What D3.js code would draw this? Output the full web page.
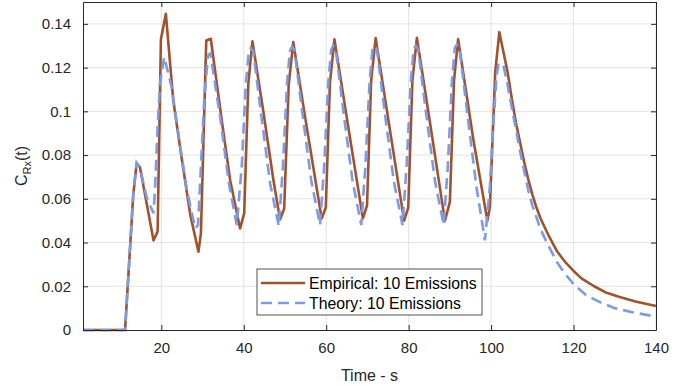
<!DOCTYPE html>
<html>
<head>
<meta charset="utf-8">
<script src="https://cdn.jsdelivr.net/npm/d3@7"></script>
<style>
  body { margin: 0; background: #fff; }
  svg { font-family: "Liberation Sans", Arial, Helvetica, sans-serif; }
</style>
</head>
<body>
<div class="chart"></div>
<script>
// values, [time (s), C_Rx(t)]
const empirical = [
  [1, 0], [11.2, 0], [13.2, 0.062], [14, 0.076], [14.8, 0.0746], [18.1, 0.041], [19.1, 0.045],
  [19.9, 0.133], [21.1, 0.1446], [22.9, 0.105], [24.9, 0.079], [27, 0.053], [29, 0.0358],
  [29.6, 0.044], [30.9, 0.1324], [32, 0.1332], [34.8, 0.094], [36.7, 0.0685], [39.1, 0.0464],
  [40.1, 0.0533], [41.1, 0.1126], [42.1, 0.132], [44.7, 0.1005], [47.2, 0.0685], [48.8, 0.0505],
  [49.8, 0.0555], [50.9, 0.112], [52, 0.1317], [55, 0.096], [58.9, 0.051],
  [59.9, 0.056], [60.9, 0.113], [62, 0.1329], [65, 0.097], [68.9, 0.051],
  [69.9, 0.057], [70.9, 0.114], [72, 0.1335], [75, 0.097], [78.9, 0.050],
  [79.9, 0.056], [80.9, 0.114], [82, 0.1336], [85, 0.097], [88.8, 0.050],
  [90, 0.0586], [91, 0.114], [92, 0.133], [95.7, 0.087], [99.1, 0.050],
  [99.7, 0.0563], [101, 0.118], [102, 0.1362], [103, 0.127], [104, 0.118], [105, 0.106],
  [106, 0.095], [107, 0.086], [108, 0.077], [109, 0.069], [110, 0.062], [111, 0.056],
  [112, 0.051], [114, 0.043], [116, 0.036], [118, 0.031], [120, 0.027], [122, 0.0235],
  [125, 0.020], [128, 0.017], [131, 0.0152], [135, 0.013], [140, 0.011]
]

const theory = [
  [1, 0], [11.2, 0], [13.2, 0.062], [14, 0.0765], [14.8, 0.0745], [16.4, 0.061], [18.1, 0.0534],
  [18.5, 0.0654], [19.1, 0.093], [19.7, 0.113], [20.7, 0.1248], [22.5, 0.111], [24.5, 0.085],
  [26.2, 0.064], [27.8, 0.050], [28.3, 0.0465], [28.9, 0.048],
  [29.6, 0.0746], [30.4, 0.105], [31.3, 0.1255], [31.9, 0.1265], [34.3, 0.097], [36.4, 0.067], [38.3, 0.048],
  [39.5, 0.0746], [40.5, 0.1126], [41.2, 0.127], [41.7, 0.129], [42.3, 0.1275], [44.3, 0.0974], [46.4, 0.067], [48.5, 0.0475],
  [49.5, 0.075], [50.5, 0.113], [51.2, 0.1275], [51.7, 0.1295], [52.3, 0.128], [54.3, 0.098], [56.4, 0.068], [58.5, 0.048],
  [59.5, 0.075], [60.5, 0.113], [61.2, 0.128], [61.7, 0.130], [62.3, 0.1285], [64.3, 0.098], [66.4, 0.068], [68.5, 0.048],
  [69.5, 0.075], [70.5, 0.113], [71.2, 0.128], [71.7, 0.130], [72.3, 0.1285], [74.3, 0.098], [76.4, 0.068], [78.5, 0.048],
  [79.5, 0.075], [80.5, 0.113], [81.2, 0.128], [81.7, 0.130], [82.3, 0.1285], [84.3, 0.098], [86.4, 0.068], [88.5, 0.048],
  [89.5, 0.075], [90.5, 0.114], [91.2, 0.129], [91.7, 0.1305], [92.3, 0.129], [94.3, 0.098], [96.4, 0.066], [98.5, 0.041],
  [99.7, 0.0654], [100.5, 0.093], [101.3, 0.1157], [101.8, 0.122], [103, 0.121], [104, 0.112], [105, 0.102],
  [106, 0.092], [107, 0.082], [108, 0.073], [109, 0.064], [110, 0.057], [112, 0.046], [113.5, 0.040],
  [116, 0.031], [118, 0.0255], [120, 0.021], [123, 0.016], [127, 0.0122], [130, 0.010], [134, 0.0082], [140, 0.0061]
]

const xTicks = [20, 40, 60, 80, 100, 120, 140]
const yTicks = [0, 0.02, 0.04, 0.06, 0.08, 0.1, 0.12, 0.14]
const yTickLabels = ["0", "0.02", "0.04", "0.06", "0.08", "0.1", "0.12", "0.14"]
const seriesNames = ["Empirical: 10 Emissions", "Theory: 10 Emissions"]

const margin = ({top: 2, right: 38, bottom: 55, left: 83})
const width = 694
const height = 385
const w = width - margin.left - margin.right
const h = height - margin.top - margin.bottom

const axisColor = "#262626"
const brown = "#A0522D"
const blue = "#7B9BE6"

const svg = d3.select(".chart")
  .append("svg")
  .attr("width", width)
  .attr("height", height)

const g = svg.append("g")
  .attr("transform", "translate(" + margin.left + "," + margin.top + ")")

// SCALES
const x = d3.scaleLinear().domain([1, 140]).range([0, w])
const y = d3.scaleLinear().domain([0, 0.15]).range([h, 0])

// grid
g.append("g").selectAll("line").data(xTicks).join("line")
  .attr("x1", d => x(d)).attr("x2", d => x(d))
  .attr("y1", 0).attr("y2", h)
  .attr("stroke", "#e3e3e3").attr("stroke-width", 1)
g.append("g").selectAll("line").data(yTicks.slice(1)).join("line")
  .attr("y1", d => y(d)).attr("y2", d => y(d))
  .attr("x1", 0).attr("x2", w)
  .attr("stroke", "#e3e3e3").attr("stroke-width", 1)

// lines
const line = d3.line().x(d => x(d[0])).y(d => y(d[1]))

g.append("path").datum(empirical)
  .attr("d", line)
  .attr("fill", "none")
  .attr("stroke", brown)
  .attr("stroke-width", 2.6)
  .attr("stroke-linejoin", "round")

g.append("path").datum(theory)
  .attr("d", line)
  .attr("fill", "none")
  .attr("stroke", blue)
  .attr("stroke-width", 2.6)
  .attr("stroke-dasharray", "11,6")

// AXES (box with inward ticks on all sides)
const xAxis = d3.axisBottom(x).tickValues(xTicks).tickSizeInner(-5).tickSizeOuter(0).tickPadding(12)
const yAxis = d3.axisLeft(y).tickValues(yTicks).tickFormat((d, i) => yTickLabels[i]).tickSizeInner(-5).tickSizeOuter(0).tickPadding(12)
const xTop = d3.axisTop(x).tickValues(xTicks).tickSizeInner(-5).tickSizeOuter(0).tickFormat("")
const yRight = d3.axisRight(y).tickValues(yTicks).tickSizeInner(-5).tickSizeOuter(0).tickFormat("")

function styleAxis(sel) {
  sel.select(".domain").attr("stroke", axisColor).attr("stroke-width", 1)
  sel.selectAll(".tick line").attr("stroke", axisColor)
  sel.selectAll(".tick text").attr("fill", axisColor).attr("font-size", 15)
    .attr("font-family", "'Liberation Sans', Arial, sans-serif")
}

g.append("g").attr("transform", "translate(0," + h + ")").call(xAxis).call(styleAxis)
g.append("g").call(yAxis).call(styleAxis)
g.append("g").call(xTop).call(styleAxis)
g.append("g").attr("transform", "translate(" + w + ",0)").call(yRight).call(styleAxis)

// labels
svg.append("text")
  .attr("x", margin.left + w / 2)
  .attr("y", 381)
  .attr("text-anchor", "middle")
  .attr("font-size", 16)
  .attr("fill", axisColor)
  .text("Time - s")

const yl = svg.append("text")
  .attr("transform", "translate(27," + (margin.top + h / 2) + ") rotate(-90)")
  .attr("text-anchor", "middle")
  .attr("font-size", 16)
  .attr("fill", axisColor)
yl.append("tspan").text("C")
yl.append("tspan").attr("font-size", 11).attr("dy", 4).text("Rx")
yl.append("tspan").attr("dy", -4).text("(t)")

// legend
const lg = svg.append("g").attr("transform", "translate(257,269)")
lg.append("rect")
  .attr("width", 225).attr("height", 46)
  .attr("fill", "#fff").attr("stroke", axisColor).attr("stroke-width", 0.8)

const entries = [
  {name: seriesNames[0], color: brown, dash: null},
  {name: seriesNames[1], color: blue, dash: "11,6"}
]
const le = lg.selectAll(".entry").data(entries).join("g")
  .attr("class", "entry")
  .attr("transform", (d, i) => "translate(0," + (14 + i * 20) + ")")
le.append("line")
  .attr("x1", 4).attr("x2", 48)
  .attr("stroke", d => d.color)
  .attr("stroke-width", 2.6)
  .attr("stroke-dasharray", d => d.dash)
le.append("text")
  .attr("x", 52).attr("y", 5.5)
  .attr("font-size", 15.8)
  .attr("fill", "#000")
  .text(d => d.name)
</script>
</body>
</html>
